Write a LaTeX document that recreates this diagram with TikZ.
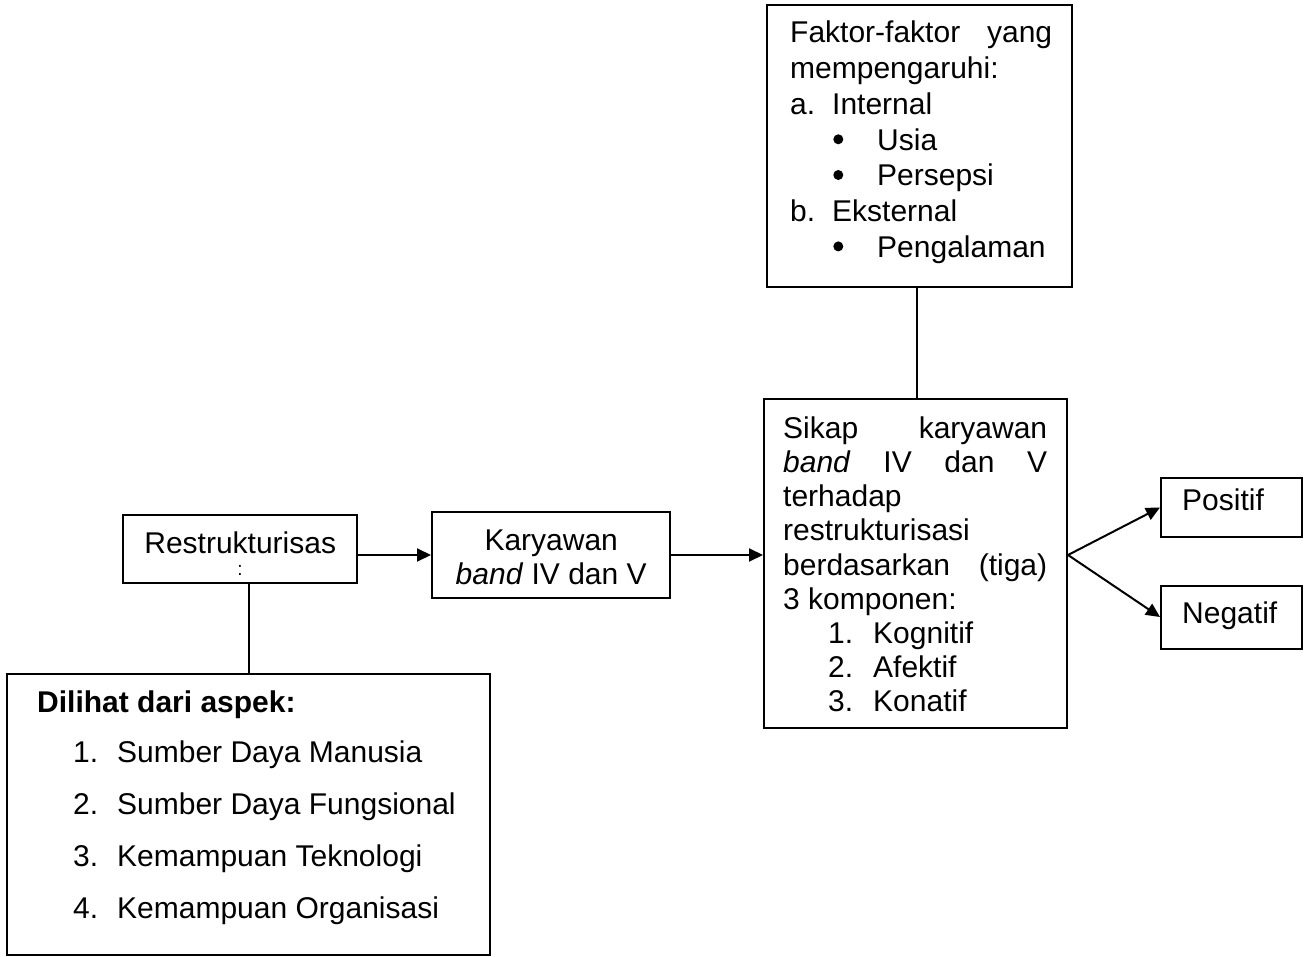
\documentclass[tikz,border=0pt]{standalone}
\usepackage{fontspec}
\setmainfont{Liberation Sans}
\usetikzlibrary{arrows.meta}
\newcommand\jline[1]{\hbox to\hsize{#1}}
\newcommand\pline[1]{\hbox{#1}}
\begin{document}
\begin{tikzpicture}[x=1pt,y=-1pt,
  box/.style={draw, line width=2pt, rectangle, inner sep=0pt},
  txt/.style={anchor=base west, inner sep=0pt, font=\fontsize{30}{36}\selectfont},
  dot/.style={circle, fill, inner sep=0pt, minimum size=10pt},
  arr/.style={line width=2pt, -{Triangle[length=14pt,width=13pt]}},
  conn/.style={line width=2pt}]
\useasboundingbox (0,0) rectangle (1309,957);
% boxes
\node[box, minimum width=305pt, minimum height=282pt] (fak) at (919.5,146) {};
\node[box, minimum width=303pt, minimum height=329pt] (sikap) at (915.5,563.5) {};
\node[box, minimum width=238pt, minimum height=86pt] (kary) at (551,555) {};
\node[box, minimum width=234pt, minimum height=68pt] (restr) at (240,549) {};
\node[box, minimum width=483pt, minimum height=281pt] (dil) at (248.5,814.5) {};
\node[box, minimum width=141pt, minimum height=59pt] (pos) at (1231.5,507.5) {};
\node[box, minimum width=141pt, minimum height=63pt] (neg) at (1231.5,617) {};
% texts
\node[txt] (fakt) at (790,43) {\vtop{\hsize=262pt \baselineskip=35.7pt \lineskiplimit=-\maxdimen
  \jline{Faktor-faktor\hfill yang}
  \pline{mempengaruhi:}
  \pline{\hbox to42pt{a.\hss}Internal}
  \pline{\hskip87pt Usia}
  \pline{\hskip87pt Persepsi}
  \pline{\hbox to42pt{b.\hss}Eksternal}
  \pline{\hskip87pt Pengalaman}}};
\node[dot] (bul1) at (838.3,139.3) {};
\node[dot] (bul2) at (838.3,175) {};
\node[dot] (bul3) at (838.3,246.4) {};
\node[txt] (sikapt) at (783,438) {\vtop{\hsize=264pt \baselineskip=34.25pt \lineskiplimit=-\maxdimen
  \jline{Sikap\hfill karyawan}
  \jline{\textit{band}\hfill IV\hfill dan\hfill V}
  \pline{terhadap}
  \pline{restrukturisasi}
  \jline{berdasarkan\hfill (tiga)}
  \pline{3 komponen:}
  \pline{\hskip45pt\hbox to45pt{1.\hss}Kognitif}
  \pline{\hskip45pt\hbox to45pt{2.\hss}Afektif}
  \pline{\hskip45pt\hbox to45pt{3.\hss}Konatif}}};
\node[txt] (karyt) at (432,550) {\vtop{\hsize=238pt \baselineskip=34pt \lineskiplimit=-\maxdimen
  \jline{\hss Karyawan\hss}
  \jline{\hss\textit{band} IV dan V\hss}}};
\node[txt] (restrt) at (123,553) {\hbox to234pt{\hss Restrukturisas\hss}};
\node[anchor=base, inner sep=0pt, font=\fontsize{19}{20}\selectfont] (colon) at (240,575) {:};
\node[txt] (dilt) at (37,712) {\vtop{\hsize=440pt \baselineskip=52.2pt \lineskiplimit=-\maxdimen
  \pline{\bfseries Dilihat dari aspek:}
  \vskip-2pt
  \pline{\hskip36pt\hbox to44pt{1.\hss}Sumber Daya Manusia}
  \pline{\hskip36pt\hbox to44pt{2.\hss}Sumber Daya Fungsional}
  \pline{\hskip36pt\hbox to44pt{3.\hss}Kemampuan Teknologi}
  \pline{\hskip36pt\hbox to44pt{4.\hss}Kemampuan Organisasi}}};
\node[txt] (post) at (1182,510) {Positif};
\node[txt] (negt) at (1182,623) {Negatif};
% connectors
\draw[arr] (restr.east |- kary.west) -- (kary.west);
\draw[arr] (kary.east) -- (kary.east -| sikap.west);
\draw[conn] ([xshift=-2.5pt]fak.south) -- ([xshift=-2.5pt]fak.south |- sikap.north);
\draw[conn] (dil.north) -- (dil.north |- restr.south);
\coordinate (fork) at (sikap.east |- kary.east);
\draw[arr] (fork) -- (pos.west);
\draw[arr] (fork) -- (neg.west);
\end{tikzpicture}
\end{document}
